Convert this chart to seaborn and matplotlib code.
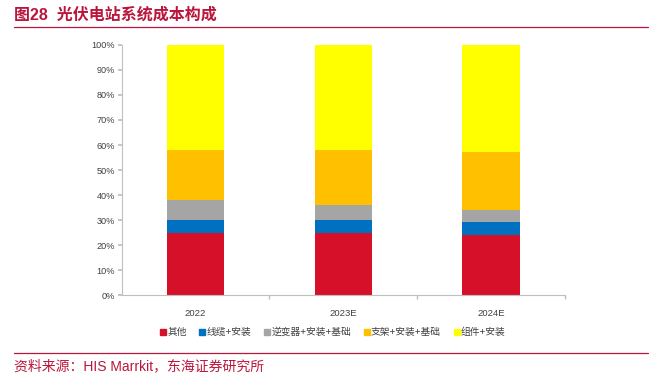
import matplotlib
matplotlib.use("Agg")
import matplotlib.pyplot as plt
import seaborn as sns
import pandas as pd
import numpy as np
from matplotlib.lines import Line2D

sns.set_theme(style="white")
plt.rcParams['font.family'] = ['Liberation Sans', 'Noto Sans CJK SC', 'DejaVu Sans']

years = ["2022", "2023E", "2024E"]
series_names = ["其他", "线缆+安装", "逆变器+安装+基础", "支架+安装+基础", "组件+安装"]
other = [25, 25, 24]
cable = [5, 5, 5.3]
inverter = [8, 6, 4.7]
bracket = [20, 22, 23.2]
module = [42, 42, 42.8]
colors = ["#D7102A", "#0070C0", "#A5A5A5", "#FFC000", "#FFFF00"]

values = [other, cable, inverter, bracket, module]
cum = np.cumsum(np.array(values, dtype=float), axis=0)

fig = plt.figure(figsize=(6.6, 3.81), dpi=100)
ax = fig.add_axes([0.1844, 0.2257, 0.6717, 0.6562])

for i in range(len(series_names) - 1, -1, -1):
    df = pd.DataFrame({"year": years, "v": cum[i]})
    sns.barplot(data=df, x="year", y="v", color=colors[i], width=0.39,
                ax=ax, saturation=1, linewidth=0, edgecolor="none")

ax.set_xlim(-0.5, 2.5)
ax.set_ylim(0, 100)
ax.set_yticks(range(0, 101, 10))
ax.set_yticklabels([f"{t}%" for t in range(0, 101, 10)])
ax.set_xlabel("")
ax.set_ylabel("")
for s in ["top", "right"]:
    ax.spines[s].set_visible(False)
for s in ["left", "bottom"]:
    ax.spines[s].set_color("#BFBFBF")
    ax.spines[s].set_linewidth(0.8)
ax.tick_params(axis="y", left=True, length=3, color="#BFBFBF", labelsize=6.6, labelcolor="#404040", pad=2)
ax.tick_params(axis="x", bottom=False, labelsize=6.8, labelcolor="#404040", pad=4)
ax.set_xticks([0.5, 1.5, 2.5], minor=True)
ax.tick_params(axis="x", which="minor", bottom=True, length=3, color="#BFBFBF")

handles = [Line2D([0], [0], marker="s", linestyle="none", markersize=3.8,
                  markerfacecolor=c, markeredgecolor=c) for c in colors]
fig.legend(handles, series_names, loc="center", bbox_to_anchor=(333/660, 1-332/381),
           ncol=5, frameon=False, fontsize=7, handlelength=0.5, handletextpad=0.2,
           columnspacing=1.35, labelcolor="#404040")

title_color = "#BA163C"
fig.text(14/660, 1-15/381, "图28  光伏电站系统成本构成", fontsize=11.5, fontweight="bold",
         color=title_color, va="center", ha="left")
fig.add_artist(Line2D([14/660, 648/660], [1-27/381, 1-27/381], color=title_color, linewidth=0.9))
fig.add_artist(Line2D([14/660, 648/660], [1-353/381, 1-353/381], color=title_color, linewidth=0.9))
fig.text(14/660, 1-366/381, "资料来源：HIS Marrkit，东海证券研究所", fontsize=10,
         color=title_color, va="center", ha="left")

fig.savefig("out.png", dpi=100)
